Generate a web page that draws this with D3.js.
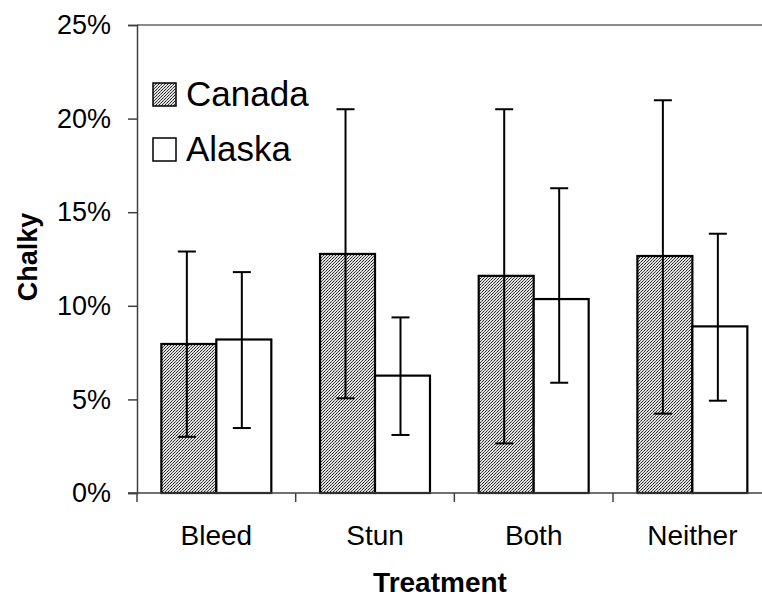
<!DOCTYPE html>
<html><head><meta charset="utf-8">
<script src="https://cdn.jsdelivr.net/npm/d3@7"></script>
<style>body{margin:0;background:#fff}svg{display:block}text{font-family:"Liberation Sans",Arial,sans-serif}</style>
</head><body>
<svg id="c" width="762" height="600"></svg>
<script>
const categories = ["Bleed","Stun","Both","Neither"];
const series = ["Canada","Alaska"];
const canada = [7.96, 12.77, 11.6, 12.66];
const canadaLow = [3.0, 5.06, 2.65, 4.24];
const canadaHigh = [12.9, 20.5, 20.5, 20.98];
const alaska = [8.2, 6.27, 10.36, 8.9];
const alaskaLow = [3.47, 3.1, 5.89, 4.93];
const alaskaHigh = [11.8, 9.38, 16.28, 13.85];
const yTicks = [0,5,10,15,20,25];

const svg = d3.select("#c");
const L = 137, R = 771.7, T = 25, B = 493;
const x0 = d3.scaleBand().domain(categories).range([L,R]).paddingInner(0.307).paddingOuter(0.1535);
const x1 = d3.scaleBand().domain(series).range([0,x0.bandwidth()]);
const y = d3.scaleLinear().domain([0,25]).range([B,T]);

const defs = svg.append("defs");
const pat = defs.append("pattern").attr("id","hatch").attr("patternUnits","userSpaceOnUse")
  .attr("width",3).attr("height",3);
pat.append("rect").attr("width",3).attr("height",3).attr("fill","#e2e2e2");
pat.append("path").attr("d","M-1,1 L1,-1 M0,3 L3,0 M2,4 L4,2").attr("stroke","#1a1a1a").attr("stroke-width",0.95);
pat.append("rect").attr("x",1).attr("y",1).attr("width",1).attr("height",1).attr("fill","#555");

const data = categories.map((c,i)=>[
  {cat:c, s:"Canada", v:canada[i], lo:canadaLow[i], hi:canadaHigh[i]},
  {cat:c, s:"Alaska", v:alaska[i], lo:alaskaLow[i], hi:alaskaHigh[i]}
]).flat();

// top border
svg.append("line").attr("x1",L).attr("x2",R).attr("y1",T).attr("y2",T).attr("stroke","#8a8a8a").attr("stroke-width",2);

// bars
svg.append("g").selectAll("rect").data(data).join("rect")
  .attr("x",d=>x0(d.cat)+x1(d.s)).attr("width",x1.bandwidth())
  .attr("y",d=>y(d.v)).attr("height",d=>B-y(d.v))
  .attr("fill",d=>d.s==="Canada"?"url(#hatch)":"#fff")
  .attr("stroke","#000").attr("stroke-width",2.2);

// error bars
const eb = svg.append("g").attr("stroke","#000").attr("stroke-width",2);
data.forEach(d=>{
  const cx = x0(d.cat)+x1(d.s)+x1.bandwidth()/2 - 2;
  eb.append("line").attr("x1",cx).attr("x2",cx).attr("y1",y(d.hi)).attr("y2",y(d.lo));
  eb.append("line").attr("x1",cx-9).attr("x2",cx+9).attr("y1",y(d.hi)).attr("y2",y(d.hi));
  eb.append("line").attr("x1",cx-9).attr("x2",cx+9).attr("y1",y(d.lo)).attr("y2",y(d.lo));
});

// y axis
const ya = svg.append("g").attr("transform",`translate(${L},0)`)
  .call(d3.axisLeft(y).tickValues(yTicks).tickFormat(d=>d+"%").tickSize(9).tickPadding(17));
ya.select(".domain").attr("stroke","#404040").attr("stroke-width",1.5);
ya.selectAll(".tick line").attr("stroke","#404040").attr("stroke-width",1.5);
ya.selectAll(".tick text").attr("font-size",27).attr("fill","#000").attr("font-family","Liberation Sans, Arial, sans-serif");

// x axis
svg.append("line").attr("x1",L-9).attr("x2",R).attr("y1",B).attr("y2",B).attr("stroke","#404040").attr("stroke-width",1.5);
const bounds = categories.map(c=>x0(c)-x0.step()*x0.paddingInner()/2).concat([R]);
svg.append("g").selectAll("line").data(bounds).join("line")
  .attr("x1",d=>d).attr("x2",d=>d).attr("y1",B).attr("y2",B+9).attr("stroke","#404040").attr("stroke-width",1.5);
svg.append("g").selectAll("text").data(categories).join("text")
  .attr("x",d=>x0(d)+x0.bandwidth()/2).attr("y",545).attr("text-anchor","middle")
  .attr("font-size",28).text(d=>d);

// titles
svg.append("text").attr("x",440).attr("y",592).attr("text-anchor","middle").attr("font-size",28).attr("font-weight","bold").text("Treatment");
svg.append("text").attr("transform","translate(37,257) rotate(-90)").attr("text-anchor","middle").attr("font-size",27).attr("font-weight","bold").text("Chalky");

// legend
const lg = svg.append("g");
series.forEach((s,i)=>{
  const yy = 83 + i*55;
  lg.append("rect").attr("x",153).attr("y",yy).attr("width",23).attr("height",23)
    .attr("fill",s==="Canada"?"url(#hatch)":"#fff").attr("stroke","#000").attr("stroke-width",1.5);
  lg.append("text").attr("x",186).attr("y",yy+23).attr("font-size",35).text(s);
});
</script>
</body></html>
